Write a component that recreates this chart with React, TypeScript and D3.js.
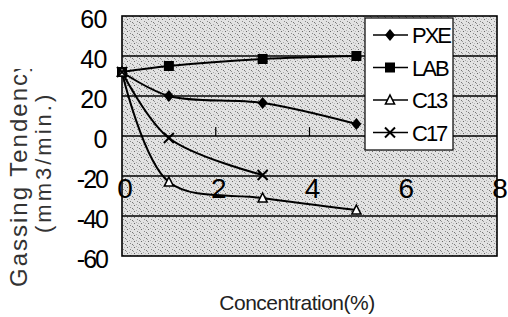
import React, { useEffect, useRef } from 'react';
import * as d3 from 'd3';

// data
const concentrations = [0, 1, 3, 5];
const pxe = [32, 20, 16.5, 6];
const lab = [32, 35, 38.5, 40];
const c13 = [32, -23, -31, -37];
const c17 = [32, -1, -19.5];
const seriesNames = ['PXE', 'LAB', 'C13', 'C17'];
const yTicks = [60, 40, 20, 0, -20, -40, -60];
const xTicks = [0, 2, 4, 6, 8];

const FONT = "'Liberation Sans', Arial, sans-serif";

const App = () => {
  const ref = useRef<SVGSVGElement | null>(null);

  useEffect(() => {
    const svg = d3.select(ref.current);
    svg.selectAll('*').remove();

    const left = 122, right = 497, top = 16, bottom = 256;
    const x = d3.scaleLinear().domain([0, 8]).range([left, right]);
    const y = d3.scaleLinear().domain([-60, 60]).range([bottom, top]);

    // speckled grey background (scanned look)
    const defs = svg.append('defs');
    const pat = defs.append('pattern')
      .attr('id', 'speckle')
      .attr('width', 7).attr('height', 6)
      .attr('patternUnits', 'userSpaceOnUse');
    pat.append('rect').attr('width', 7).attr('height', 6).attr('fill', '#e2e2e2');
    [[1, 1, '#666'], [4, 3, '#888'], [3, 0, '#aaa'], [6, 4, '#777'], [0, 5, '#999'], [5, 1, '#bbb']]
      .forEach(([px, py, c]) => {
        pat.append('rect').attr('x', px).attr('y', py).attr('width', 1).attr('height', 1).attr('fill', c as string);
      });

    defs.append('clipPath').attr('id', 'ytitle-clip')
      .append('rect').attr('x', 0).attr('y', 69).attr('width', 70).attr('height', 250);

    svg.append('rect')
      .attr('x', left).attr('y', top)
      .attr('width', right - left).attr('height', bottom - top)
      .attr('fill', 'url(#speckle)');

    // gridlines
    svg.selectAll('.grid')
      .data(yTicks.filter(d => d !== 60 && d !== -60))
      .enter().append('line')
      .attr('x1', left).attr('x2', right)
      .attr('y1', d => y(d)).attr('y2', d => y(d))
      .attr('stroke', '#000').attr('stroke-width', 1.6);

    // small x ticks on the zero line
    svg.selectAll('.xtick')
      .data([2, 4, 6])
      .enter().append('line')
      .attr('x1', d => x(d)).attr('x2', d => x(d))
      .attr('y1', y(0)).attr('y2', y(0) - 9)
      .attr('stroke', '#000').attr('stroke-width', 1.2);

    svg.append('rect')
      .attr('x', left).attr('y', top)
      .attr('width', right - left).attr('height', bottom - top)
      .attr('fill', 'none').attr('stroke', '#000').attr('stroke-width', 1.6);

    // y tick labels
    svg.selectAll('.ylab')
      .data(yTicks)
      .enter().append('text')
      .attr('x', 107).attr('y', d => y(d) + 12)
      .attr('text-anchor', 'end')
      .attr('letter-spacing', d => (d < 0 ? -2 : -0.5))
      .style('font-family', FONT).style('font-size', '25px')
      .text(d => String(d));

    // x tick labels (sit across the -20 line)
    svg.selectAll('.xlab')
      .data(xTicks)
      .enter().append('text')
      .attr('x', d => x(d) + 3).attr('y', 198)
      .attr('text-anchor', 'middle')
      .style('font-family', FONT).style('font-size', '28px')
      .text(d => d);

    // series
    const allSeries = [pxe, lab, c13, c17];
    const line = d3.line<[number, number]>()
      .x(d => x(d[0])).y(d => y(d[1]))
      .curve(d3.curveCatmullRom.alpha(0.5));

    allSeries.forEach(vals => {
      const pts: [number, number][] = vals.map((v, i) => [concentrations[i], v]);
      svg.append('path')
        .attr('d', line(pts))
        .attr('fill', 'none').attr('stroke', '#000').attr('stroke-width', 2);
    });

    const drawMarker = (g: any, kind: number, cx: number, cy: number) => {
      if (kind === 0) {
        g.append('path')
          .attr('d', `M${cx},${cy - 6}L${cx + 5},${cy}L${cx},${cy + 6}L${cx - 5},${cy}Z`)
          .attr('fill', '#000');
      } else if (kind === 1) {
        g.append('rect').attr('x', cx - 5).attr('y', cy - 5).attr('width', 10).attr('height', 10).attr('fill', '#000');
      } else if (kind === 2) {
        g.append('path')
          .attr('d', `M${cx},${cy - 5}L${cx + 4.5},${cy + 4}L${cx - 4.5},${cy + 4}Z`)
          .attr('fill', '#fff').attr('stroke', '#000').attr('stroke-width', 1.6);
      } else {
        g.append('path')
          .attr('d', `M${cx - 5},${cy - 5}L${cx + 5},${cy + 5}M${cx + 5},${cy - 5}L${cx - 5},${cy + 5}`)
          .attr('stroke', '#000').attr('stroke-width', 2);
      }
    };

    allSeries.forEach((vals, k) => {
      vals.forEach((v, i) => drawMarker(svg, k, x(concentrations[i]), y(v)));
    });

    // legend
    const lg = svg.append('g');
    lg.append('rect')
      .attr('x', 365).attr('y', 18).attr('width', 88).attr('height', 132)
      .attr('fill', '#fff').attr('stroke', '#000').attr('stroke-width', 1.2);
    seriesNames.forEach((name, i) => {
      const ly = 35 + i * 32.5;
      lg.append('line')
        .attr('x1', 373).attr('x2', 408).attr('y1', ly).attr('y2', ly)
        .attr('stroke', '#000').attr('stroke-width', 1.5);
      drawMarker(lg, i, 390, ly);
      lg.append('text')
        .attr('x', 412).attr('y', ly + 8)
        .attr('letter-spacing', -2)
        .style('font-family', FONT).style('font-size', '22px')
        .text(name);
    });

    // axis titles
    const yt = svg.append('g').attr('clip-path', 'url(#ytitle-clip)');
    yt.append('text')
      .attr('transform', 'translate(27,287) rotate(-90)')
      .attr('text-anchor', 'start')
      .attr('letter-spacing', 2)
      .style('font-family', FONT).style('font-size', '24px').style('fill', '#333')
      .text('Gassing Tendency');
    yt.append('text')
      .attr('transform', 'translate(51,233) rotate(-90)')
      .attr('text-anchor', 'start')
      .attr('letter-spacing', 3)
      .style('font-family', FONT).style('font-size', '22px').style('fill', '#333')
      .text('(mm3/min.)');

    svg.append('text')
      .attr('x', 297).attr('y', 310)
      .attr('text-anchor', 'middle')
      .attr('letter-spacing', -0.5)
      .style('font-family', FONT).style('font-size', '21px').style('fill', '#222')
      .text('Concentration(%)');
  }, []);

  return (
    <svg
      ref={ref}
      width={508}
      height={317}
      style={{ position: 'absolute', left: 0, top: 0, background: '#fff' }}
    />
  );
};

export default App;
